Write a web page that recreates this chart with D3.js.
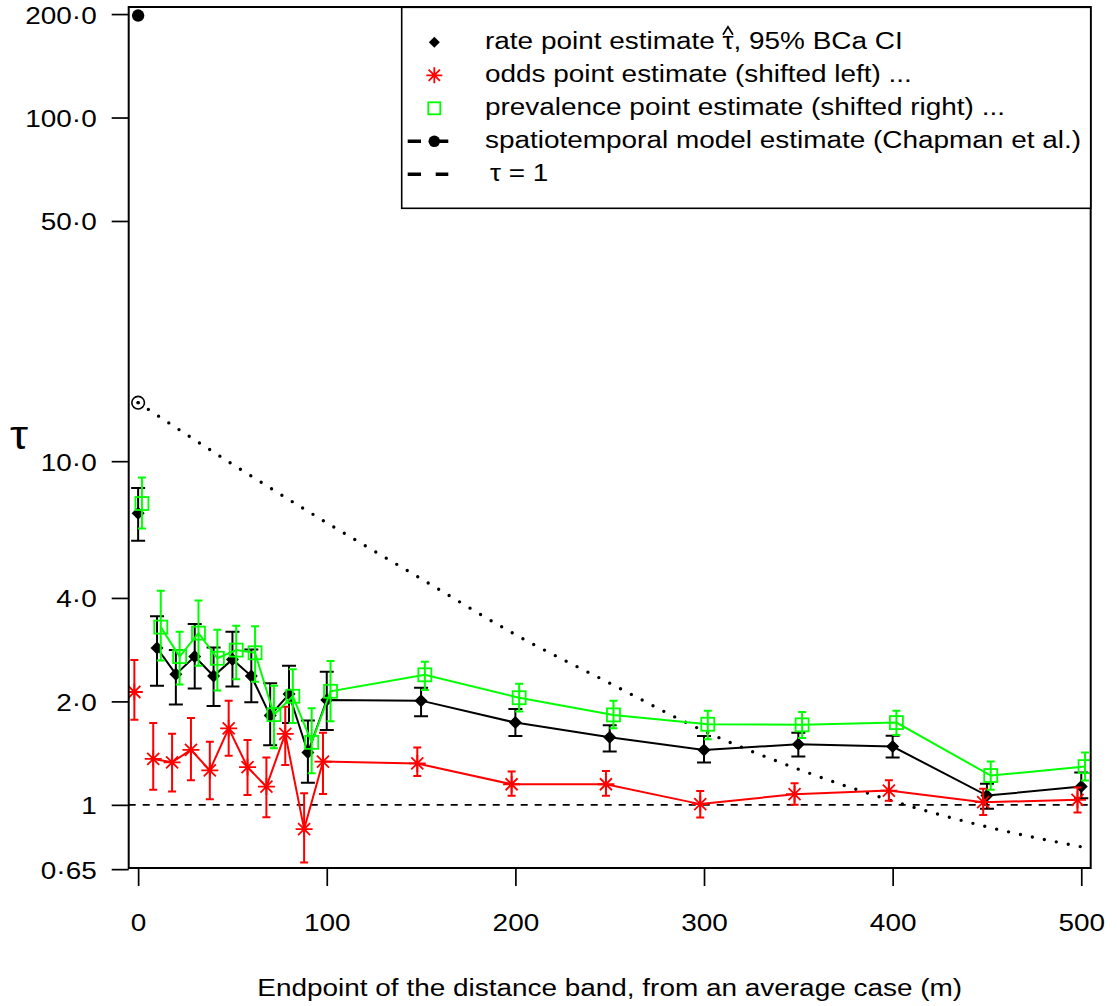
<!DOCTYPE html>
<html>
<head>
<meta charset="utf-8">
<script src="https://cdn.jsdelivr.net/npm/d3@7"></script>
<style>
  html, body { margin: 0; padding: 0; background: #fff; }
  svg text { font-family: "Liberation Sans", Arial, Helvetica, sans-serif; fill: #000; }
</style>
</head>
<body>
<svg id="chart" width="1117" height="1006"></svg>
<script>
// Endpoints of the distance bands (m)
const bands = [0, 10, 20, 30, 40, 50, 60, 70, 80, 90, 100, 150, 200, 250, 300, 350, 400, 450, 500];

// Rate-based estimate of tau with 95% BCa interval
const rateEst = [7.05, 2.86, 2.40, 2.70, 2.37, 2.65, 2.37, 1.82, 2.10, 1.42, 2.02, 2.01, 1.735, 1.573, 1.445, 1.50, 1.478, 1.064, 1.13];
const rateLo  = [5.87, 2.22, 1.96, 2.18, 1.94, 2.21, 1.99, 1.49, 1.73, 1.16, 1.65, 1.81, 1.587, 1.43, 1.327, 1.382, 1.373, 0.974, 1.046];
const rateHi  = [8.36, 3.54, 2.82, 3.36, 2.87, 3.19, 2.83, 2.26, 2.54, 1.76, 2.44, 2.19, 1.90, 1.704, 1.587, 1.62, 1.59, 1.151, 1.242];

// Odds-based estimate (drawn shifted left)
const oddsEst = [2.13, 1.36, 1.33, 1.445, 1.26, 1.67, 1.287, 1.13, 1.609, 0.85, 1.336, 1.32, 1.148, 1.148, 1.005, 1.074, 1.10, 1.018, 1.034];
const oddsLo  = [1.77, 1.106, 1.093, 1.18, 1.039, 1.39, 1.069, 0.921, 1.307, 0.68, 1.076, 1.214, 1.062, 1.062, 0.919, 1.0, 1.027, 0.935, 0.95];
const oddsHi  = [2.64, 1.73, 1.61, 1.79, 1.525, 2.01, 1.545, 1.373, 1.93, 1.08, 1.62, 1.468, 1.25, 1.255, 1.098, 1.156, 1.18, 1.113, 1.123];

// Prevalence-based estimate (drawn shifted right)
const prevEst = [7.53, 3.29, 2.70, 3.16, 2.67, 2.82, 2.77, 1.83, 2.07, 1.52, 2.14, 2.39, 2.05, 1.827, 1.716, 1.709, 1.735, 1.217, 1.292];
const prevLo  = [6.37, 2.63, 2.24, 2.54, 2.15, 2.32, 2.28, 1.46, 1.73, 1.236, 1.75, 2.16, 1.87, 1.67, 1.552, 1.566, 1.598, 1.106, 1.177];
const prevHi  = [8.97, 4.20, 3.19, 3.93, 3.23, 3.32, 3.31, 2.22, 2.48, 1.91, 2.62, 2.61, 2.25, 2.01, 1.88, 1.864, 1.88, 1.336, 1.42];

// Spatiotemporal model estimate (Chapman et al.)
const modelDist = [0, 50, 100, 150, 200, 250, 300, 350, 400, 450, 500];
const modelTau  = [14.8, 9.8, 6.62, 4.55, 3.13, 2.26, 1.64, 1.27, 1.026, 0.863, 0.755];
const modelPeakDist = [0];
const modelPeakTau  = [198];

// Axis ticks
const xTicks = [0, 100, 200, 300, 400, 500];
const yTicks = [200, 100, 50, 10, 4, 2, 1, 0.65];
const yTickLabels = ["200·0", "100·0", "50·0", "10·0", "4·0", "2·0", "1", "0·65"];

const legendLabels = [
  "rate point estimate τ, 95% BCa CI",
  "odds point estimate (shifted left) ...",
  "prevalence point estimate (shifted right) ...",
  "spatiotemporal model estimate (Chapman et al.)",
  "τ = 1"
];

const shiftLeft = -2, shiftRight = 2;
const FONT = 24.5, SX = 1.14;

const svg = d3.select("#chart");
const L = 128.7, R = 1090.7, T = 7, B = 868;

const x = d3.scaleLinear().domain([-5, 505]).range([L, R]);
const y = d3.scaleLog().domain([0.655, 209.7]).range([B, T]);

function stretchedText(sel, tx, ty, txt, anchor, size) {
  return sel.append("text")
    .attr("transform", `translate(${tx},${ty}) scale(${SX},1)`)
    .attr("text-anchor", anchor || "start")
    .style("font-size", (size || FONT) + "px")
    .text(txt);
}

svg.append("defs").append("clipPath").attr("id", "plotClip")
  .append("rect").attr("x", L).attr("y", T).attr("width", R - L).attr("height", B - T);

const plot = svg.append("g").attr("clip-path", "url(#plotClip)");

// tau = 1 reference
plot.append("line")
  .attr("x1", L).attr("x2", R).attr("y1", y(1)).attr("y2", y(1))
  .attr("stroke", "#000").attr("stroke-width", 1.7).attr("stroke-dasharray", "7 7");

// model curve (dotted) with its open-circle start point
const modelPts = modelDist.map((d, i) => [d, modelTau[i]]);
plot.append("path")
  .attr("d", d3.line().x(d => x(d[0])).y(d => y(d[1])).curve(d3.curveMonotoneX)(modelPts))
  .attr("fill", "none").attr("stroke", "#000").attr("stroke-width", 3.4)
  .attr("stroke-linecap", "round").attr("stroke-dasharray", "0 12.2");
plot.append("circle").attr("cx", x(modelDist[0])).attr("cy", y(modelTau[0])).attr("r", 6.3)
  .attr("fill", "none").attr("stroke", "#000").attr("stroke-width", 1.6);
plot.append("circle").attr("cx", x(modelDist[0])).attr("cy", y(modelTau[0])).attr("r", 1.7).attr("fill", "#000");
plot.selectAll(".peak").data(modelPeakDist).enter().append("circle")
  .attr("cx", d => x(d)).attr("cy", (d, i) => y(modelPeakTau[i])).attr("r", 6.2).attr("fill", "#000");

// marker shapes
function diamond(g, cx, cy, r, color) {
  g.append("path").attr("d", `M${cx},${cy - r}L${cx + r},${cy}L${cx},${cy + r}L${cx - r},${cy}Z`).attr("fill", color);
}
function asterisk(g, cx, cy, r, color) {
  const d = r * Math.SQRT1_2;
  g.append("path")
    .attr("d", `M${cx - r},${cy}L${cx + r},${cy}M${cx},${cy - r}L${cx},${cy + r}` +
               `M${cx - d},${cy - d}L${cx + d},${cy + d}M${cx - d},${cy + d}L${cx + d},${cy - d}`)
    .attr("stroke", color).attr("stroke-width", 1.8).attr("fill", "none");
}
function square(g, cx, cy, r, color) {
  g.append("rect").attr("x", cx - r).attr("y", cy - r).attr("width", 2 * r).attr("height", 2 * r)
    .attr("fill", "none").attr("stroke", color).attr("stroke-width", 1.8);
}

function drawSeries(est, lo, hi, shift, color, capHalf, marker, size) {
  const g = plot.append("g");
  const pts = bands.map((b, i) => ({ d: b + shift, est: est[i], lo: lo[i], hi: hi[i] }));
  // connecting line starts at the 10 m band
  g.append("path")
    .attr("d", d3.line().x(p => x(p.d)).y(p => y(p.est))(pts.slice(1)))
    .attr("fill", "none").attr("stroke", color).attr("stroke-width", 2);
  pts.forEach(p => {
    const px = x(p.d);
    g.append("path")
      .attr("d", `M${px},${y(p.lo)}L${px},${y(p.hi)}M${px - capHalf},${y(p.lo)}L${px + capHalf},${y(p.lo)}M${px - capHalf},${y(p.hi)}L${px + capHalf},${y(p.hi)}`)
      .attr("stroke", color).attr("stroke-width", 2).attr("fill", "none");
    marker(g, px, y(p.est), size, color);
  });
}

drawSeries(rateEst, rateLo, rateHi, 0, "#000", 7, diamond, 6.5);
drawSeries(oddsEst, oddsLo, oddsHi, shiftLeft, "#ff0000", 4, asterisk, 8.5);
drawSeries(prevEst, prevLo, prevHi, shiftRight, "#00ff00", 4, square, 6.5);

// axes
const xAxis = svg.append("g").attr("transform", `translate(0,${B})`)
  .call(d3.axisBottom(x).tickValues(xTicks).tickSize(18).tickSizeOuter(0));
xAxis.select(".domain").remove();
xAxis.selectAll(".tick line").attr("stroke", "#000").attr("stroke-width", 1.7);
xAxis.selectAll(".tick text")
  .attr("y", null).attr("dy", null).attr("fill", "#000")
  .attr("transform", `translate(0,63) scale(${SX},1)`)
  .style("font-size", FONT + "px").style("font-family", '"Liberation Sans", Arial, sans-serif');

const yAxis = svg.append("g").attr("transform", `translate(${L},0)`)
  .call(d3.axisLeft(y).tickValues(yTicks).tickFormat((d, i) => yTickLabels[i]).tickSize(17).tickSizeOuter(0));
yAxis.select(".domain").remove();
yAxis.selectAll(".tick line").attr("stroke", "#000").attr("stroke-width", 1.7);
yAxis.selectAll(".tick text")
  .attr("x", null).attr("dy", null).attr("fill", "#000")
  .attr("transform", `translate(-32,9) scale(${SX},1)`)
  .style("font-size", FONT + "px").style("font-family", '"Liberation Sans", Arial, sans-serif');

// plot box
svg.append("rect").attr("x", L).attr("y", T).attr("width", R - L).attr("height", B - T)
  .attr("fill", "none").attr("stroke", "#000").attr("stroke-width", 2);

// axis titles
stretchedText(svg, (L + R) / 2, 996, "Endpoint of the distance band, from an average case (m)", "middle");
stretchedText(svg, 19, 449, "τ", "middle", 40);

// legend
const lg = svg.append("g");
lg.append("rect").attr("x", 401.7).attr("y", 7.3).attr("width", R - 401.7).attr("height", 201)
  .attr("fill", "#fff").attr("stroke", "#000").attr("stroke-width", 1.6);
const symX = 434.3, textX = 485, row0 = 42.3, rowGap = 33;
legendLabels.forEach((lab, i) => {
  const cy = row0 + i * rowGap;
  const tx = i === 4 ? 490 : textX;
  const t = stretchedText(lg, tx, cy + 6.5, lab, "start");
  if (i === 0) {
    const k = lab.indexOf("τ");
    const ext = t.node().getExtentOfChar(k);
    const cx = tx + (ext.x + ext.width / 2) * SX;
    const b = cy + 6.5;
    lg.append("path").attr("d", `M${cx - 5},${b - 14}L${cx},${b - 22}L${cx + 5},${b - 14}`)
      .attr("fill", "none").attr("stroke", "#000").attr("stroke-width", 1.7);
  }
});
diamond(lg, symX, row0, 5.5, "#000");
asterisk(lg, symX, row0 + rowGap, 8, "#ff0000");
square(lg, symX, row0 + 2 * rowGap, 6, "#00ff00");
lg.append("line").attr("x1", 407.7).attr("x2", 448.3).attr("y1", row0 + 3 * rowGap).attr("y2", row0 + 3 * rowGap)
  .attr("stroke", "#000").attr("stroke-width", 3.4).attr("stroke-dasharray", "13.3 14.7");
lg.append("circle").attr("cx", symX).attr("cy", row0 + 3 * rowGap).attr("r", 5.8).attr("fill", "#000");
lg.append("line").attr("x1", 407.7).attr("x2", 448.3).attr("y1", row0 + 4 * rowGap).attr("y2", row0 + 4 * rowGap)
  .attr("stroke", "#000").attr("stroke-width", 3.4).attr("stroke-dasharray", "13.3 14.7");
</script>
</body>
</html>
